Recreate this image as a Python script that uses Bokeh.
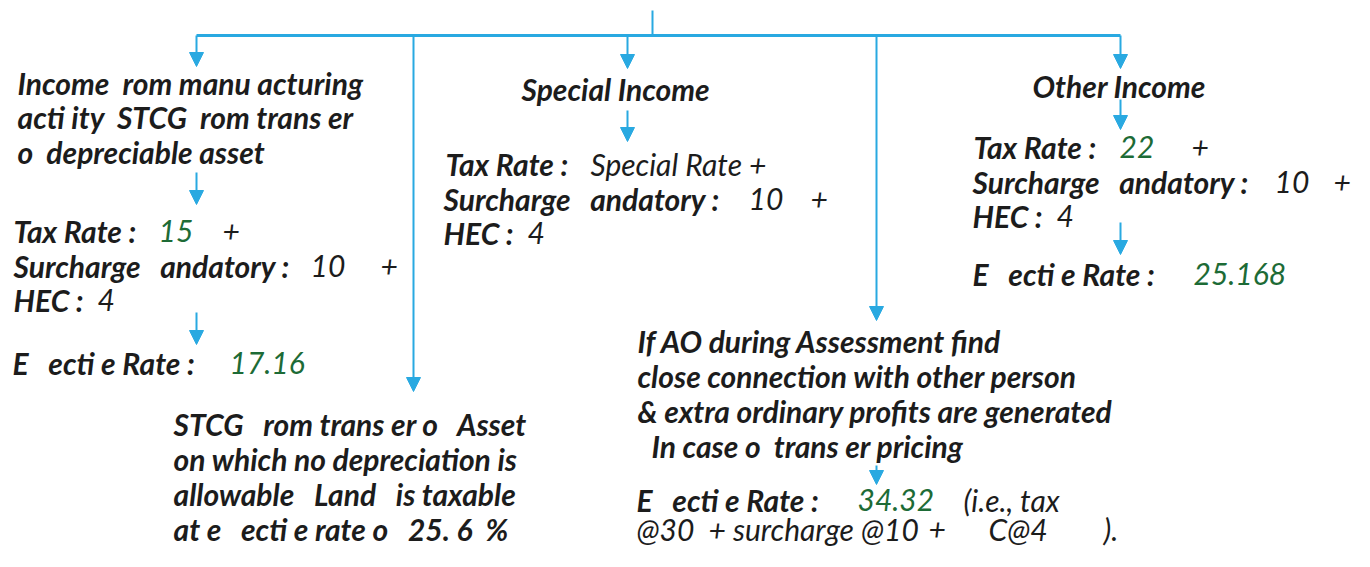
from bokeh.plotting import figure
from bokeh.models import Range1d
from bokeh.embed import file_html
from bokeh.resources import INLINE
from bokeh.core.properties import value

# ---- text content (as shown in the reference) ----
seg_text = [
    # left branch
    "Income  rom manu acturing", "acti ity  STCG  rom trans er", "o  depreciable asset",
    "Tax Rate :", "15", "+",
    "Surcharge   andatory :", "10", "+",
    "HEC :", "4",
    "E   ecti e Rate :", "17.16",
    # middle-left branch
    "STCG   rom trans er o   Asset", "on which no depreciation is",
    "allowable   Land   is taxable", "at e   ecti e rate o   25. 6  %",
    # special income
    "Special Income",
    "Tax Rate :", "Special Rate +",
    "Surcharge   andatory :", "10", "+",
    "HEC :", "4",
    # close connection branch
    "If AO during Assessment find", "close connection with other person",
    "& extra ordinary profits are generated", "In case o  trans er pricing",
    "E   ecti e Rate :", "34.32", "(i.e., tax",
    "@30", "+ surcharge @10", "+", "C@4", ").",
    # other income
    "Other Income",
    "Tax Rate :", "22", "+",
    "Surcharge   andatory :", "10", "+",
    "HEC :", "4",
    "E   ecti e Rate :", "25.168",
]
# style: b = bold label, r = regular value, g = green value
seg_style = [
    "b", "b", "b",
    "b", "g", "r",
    "b", "r", "r",
    "b", "r",
    "b", "g",
    "b", "b", "b", "b",
    "b",
    "b", "r",
    "b", "r", "r",
    "b", "r",
    "b", "b", "b", "b",
    "b", "g", "r",
    "r", "r", "r", "r", "r",
    "b",
    "b", "g", "r",
    "b", "r", "r",
    "b", "r",
    "b", "g",
]
# layout positions (page pixels)
seg_x = [
    17, 17, 17,
    13, 158, 222,
    13, 310, 380,
    13, 97,
    12, 229,
    173, 173, 173, 173,
    521,
    445, 590,
    443, 748, 810,
    443, 527,
    637, 637, 637, 651,
    636, 857, 963,
    636, 708, 928, 988, 1103,
    1032,
    973, 1119, 1191,
    972, 1274, 1333,
    972, 1056,
    972, 1193,
]
seg_y = [
    82, 116, 151,
    230, 230, 230,
    265, 265, 265,
    299, 299,
    362, 362,
    423, 458, 493, 528,
    88,
    163, 163,
    198, 198, 198,
    232, 232,
    340, 375, 410, 445,
    499, 499, 499,
    528, 528, 528, 528, 528,
    85,
    146, 146, 146,
    181, 181, 181,
    215, 215,
    273, 273,
]

# connector lines (page pixels)
bus_x0, bus_x1, bus_y = 196, 1120, 35
root_x, root_y0 = 652, 10
# arrows: x, y_start, y_tip
arrow_x = [196, 413, 627, 876, 1120, 196, 196, 627, 1120, 1120, 876]
arrow_y0 = [35, 35, 35, 35, 35, 172, 312, 110, 99, 222, 465]
arrow_y1 = [66, 391, 68, 320, 68, 204, 344, 141, 129, 254, 484]

BLUE = "#29a9e1"
GREEN = "#1d6b36"
INK = "#1c1c1c"

p = figure(width=1354, height=551, x_range=Range1d(0, 1354), y_range=Range1d(551, 0),
           output_backend="svg", toolbar_location=None, min_border=0)
p.axis.visible = False
p.grid.visible = False
p.outline_line_color = None
p.background_fill_color = "white"
p.border_fill_color = "white"

# connectors
p.segment([root_x], [root_y0], [root_x], [bus_y], line_color=BLUE, line_width=2)
p.segment([bus_x0], [bus_y], [bus_x1], [bus_y], line_color=BLUE, line_width=3)
HEAD = 14
p.segment(arrow_x, arrow_y0, arrow_x, [y - HEAD + 2 for y in arrow_y1], line_color=BLUE, line_width=2)
xs = [[x - 7, x + 7, x] for x in arrow_x]
ys = [[y - HEAD, y - HEAD, y] for y in arrow_y1]
p.patches(xs, ys, fill_color=BLUE, line_color=BLUE, line_width=1)

NB = "\u00a0"
def keep_spaces(s):
    return s.replace("  ", " " + NB).replace(NB + " ", NB + NB)

FONT = "Lato"
SIZE = "30px"
for style, color, fstyle in [("b", INK, "bold italic"), ("r", INK, "italic"), ("g", GREEN, "italic")]:
    idx = [i for i, s in enumerate(seg_style) if s == style]
    p.text([seg_x[i] for i in idx], [seg_y[i] for i in idx],
           text=[keep_spaces(seg_text[i]) for i in idx],
           text_font=value(FONT), text_font_size=SIZE, text_font_style=fstyle,
           text_color=color, text_baseline="middle", text_align="left")

open("out.html", "w").write(file_html(p, INLINE))
